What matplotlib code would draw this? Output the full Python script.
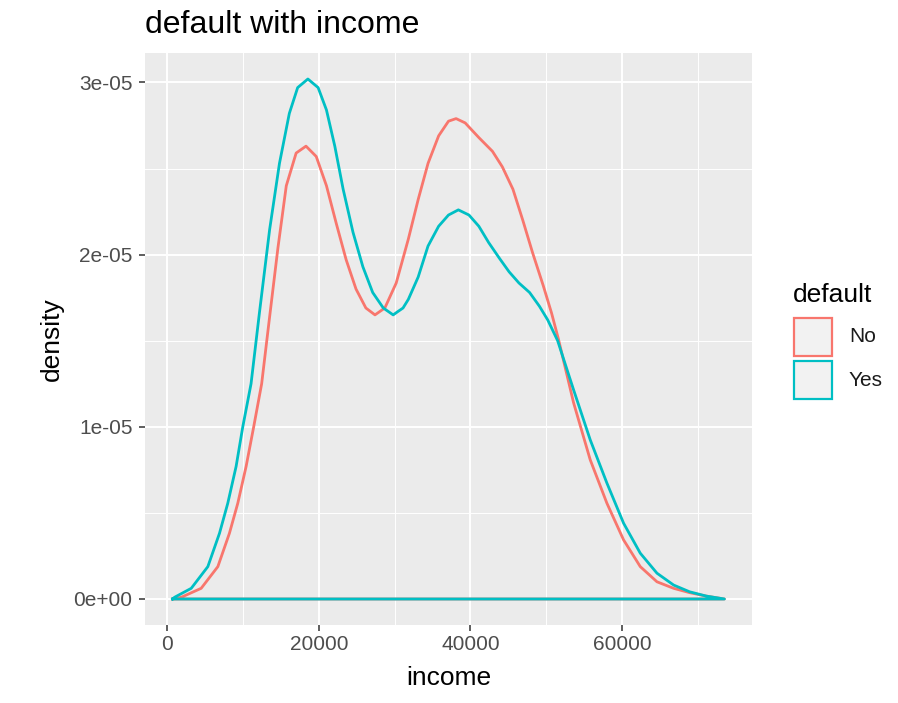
import matplotlib
matplotlib.use("Agg")
import matplotlib.pyplot as plt
from matplotlib.patches import Rectangle
import numpy as np

plt.rcParams['font.family'] = ['Liberation Sans', 'DejaVu Sans']

# density curves (income, density in 1e-6 units)
income_no = [700, 1840, 4470, 6670, 8200, 9300, 10400, 11400, 12450, 13450,
             14600, 15700, 17000, 18300, 19650, 21000, 22300, 23600, 24900, 26200,
             27400, 28700, 30200, 31800, 33100, 34400, 35800, 37100, 38100, 39300,
             41100, 42900, 44200, 45600, 46900, 48200, 49600, 50700, 51600, 53600,
             55800, 58000, 60200, 62400, 64600, 66800, 68900, 71100, 73500]
density_no = [0, 0.1, 0.62, 1.88, 3.82, 5.56, 7.7, 10.0, 12.5, 16.2,
              20.4, 24.0, 25.9, 26.3, 25.7, 24.0, 21.8, 19.7, 18.0, 16.9,
              16.5, 16.9, 18.35, 20.9, 23.2, 25.3, 26.9, 27.75, 27.9, 27.65,
              26.8, 26.0, 25.1, 23.8, 22.0, 20.1, 18.2, 16.6, 15.1, 11.4,
              8.08, 5.56, 3.43, 1.88, 1.0, 0.62, 0.37, 0.17, 0]

income_yes = [700, 960, 3160, 5350, 6890, 7980, 9080, 9960, 11050, 12150,
              13500, 14800, 16100, 17200, 18550, 19900, 21000, 22100, 23200, 24500,
              25800, 27100, 28500, 29800, 30440, 31100, 31800, 33100, 34400, 35800,
              37100, 38400, 39800, 41100, 42400, 43800, 45100, 46400, 47800, 49100,
              50200, 51500, 53600, 55800, 58000, 60200, 62400, 64600, 66800, 68900,
              71100, 73500]
density_yes = [0, 0.1, 0.62, 1.88, 3.82, 5.56, 7.7, 10.0, 12.5, 16.6,
               21.45, 25.3, 28.2, 29.7, 30.2, 29.7, 28.4, 26.3, 23.8, 21.3,
               19.3, 17.8, 16.9, 16.5, 16.7, 16.9, 17.4, 18.7, 20.5, 21.65,
               22.3, 22.6, 22.3, 21.65, 20.7, 19.8, 19.0, 18.35, 17.8, 17.0,
               16.2, 15.0, 12.15, 9.24, 6.73, 4.4, 2.66, 1.5, 0.81, 0.42,
               0.17, 0]

groups = ["No", "Yes"]
colors = ["#F8766D", "#00BFC4"]
x_ticks = [0, 20000, 40000, 60000]
y_ticks = [0, 1e-05, 2e-05, 3e-05]
y_tick_labels = ["0e+00", "1e-05", "2e-05", "3e-05"]

fig = plt.figure(figsize=(8.98, 7.03), dpi=100)
ax = fig.add_axes([145 / 898, 1 - 625 / 703, 607 / 898, 572 / 703])
ax.set_facecolor("#EBEBEB")
for s in ax.spines.values():
    s.set_visible(False)

series = [(income_no, density_no), (income_yes, density_yes)]
for (xs, ys), col in zip(series, colors):
    xs = np.array(xs, dtype=float)
    ys = np.array(ys) * 1e-6
    # outline like geom_density: curve plus the baseline back to start
    px = np.concatenate([xs, [xs[0]]])
    py = np.concatenate([ys, [0]])
    ax.plot(px, py, color=col, lw=2.0, solid_joinstyle="round", zorder=3)

# ggplot-style expansion
xmin, xmax = 700, 73500
xr = xmax - xmin
ax.set_xlim(xmin - 0.05 * xr, xmax + 0.05 * xr)
ymax = max(density_yes) * 1e-6
ax.set_ylim(-0.05 * ymax, ymax * 1.05)

ax.set_xticks(x_ticks)
ax.set_xticks([10000, 30000, 50000, 70000], minor=True)
ax.set_yticks(y_ticks)
ax.set_yticklabels(y_tick_labels)
ax.set_yticks([0.5e-05, 1.5e-05, 2.5e-05], minor=True)
ax.grid(which="major", color="white", lw=1.4)
ax.grid(which="minor", color="white", lw=0.7)
ax.set_axisbelow(True)
ax.tick_params(which="major", length=4, width=1.1, color="#333333",
               labelcolor="#4D4D4D", labelsize=15)
ax.tick_params(axis="y", pad=5)
ax.tick_params(axis="x", pad=3)
ax.tick_params(which="minor", length=0)

ax.set_xlabel("income", fontsize=19)
ax.set_ylabel("density", fontsize=19)
ax.xaxis.set_label_coords(0.5, -0.0927)
ax.xaxis.label.set_va("center")
ax.yaxis.set_label_coords(-0.1537, 0.5)
ax.yaxis.label.set_va("center")

fig.text(145 / 898, 1 - 33 / 703, "default with income", fontsize=23,
         ha="left", va="baseline")

# legend drawn by hand to match ggplot's key boxes
fig.text(793 / 898, 1 - 295 / 703, "default", fontsize=19, ha="left", va="center")
key_tops = [318, 361]
for g, col, top in zip(groups, colors, key_tops):
    fig.patches.append(Rectangle((794 / 898, 1 - (top + 38) / 703), 38 / 898, 38 / 703,
                                 transform=fig.transFigure, facecolor="#F2F2F2",
                                 edgecolor=col, lw=1.6))
    fig.text(849 / 898, 1 - (top + 19) / 703, g, fontsize=15, ha="left",
             va="center", color="#1A1A1A")

fig.savefig("out.png", dpi=100)
